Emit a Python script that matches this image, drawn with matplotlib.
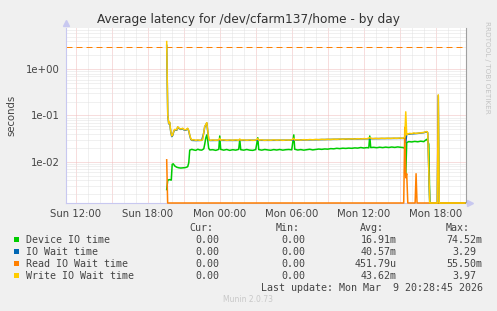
import numpy as np
import matplotlib.pyplot as plt
from matplotlib.ticker import MultipleLocator, FuncFormatter, LogLocator, NullFormatter
from matplotlib.patches import Rectangle

W, H = 497, 311  # output size in px (dpi 100)

# time in hours since Sun 00:00, value in seconds
device_io = [
    (19.58, 0.0025), (19.67, 0.004), (19.83, 0.0041), (19.96, 0.004), (20.04, 0.0088),
    (20.13, 0.009), (20.25, 0.0081), (20.42, 0.0076), (20.58, 0.0074), (20.75, 0.0073),
    (21.0, 0.0074), (21.17, 0.0075), (21.33, 0.0078), (21.42, 0.0095), (21.5, 0.0178),
    (21.67, 0.0185), (21.83, 0.018), (22.0, 0.0176), (22.17, 0.0186), (22.33, 0.018),
    (22.5, 0.0178), (22.67, 0.019), (22.75, 0.024), (22.83, 0.032), (22.92, 0.038),
    (23.0, 0.029), (23.08, 0.0195), (23.17, 0.018), (23.42, 0.0182), (23.67, 0.0176),
    (23.92, 0.0185), (24.0, 0.036), (24.08, 0.0185), (24.33, 0.0178), (24.58, 0.0184),
    (24.83, 0.0176), (25.08, 0.0182), (25.33, 0.0178), (25.58, 0.0185), (25.67, 0.03),
    (25.75, 0.0182), (26.0, 0.0178), (26.25, 0.0184), (26.5, 0.0178), (26.75, 0.0176),
    (27.0, 0.0183), (27.17, 0.033), (27.25, 0.0183), (27.5, 0.0178), (27.75, 0.0184),
    (28.0, 0.018), (28.25, 0.0177), (28.5, 0.0183), (28.75, 0.0179), (29.0, 0.0184),
    (29.25, 0.0178), (29.5, 0.0182), (29.75, 0.0184), (30.0, 0.0181), (30.17, 0.038),
    (30.25, 0.0186), (30.5, 0.0179), (30.75, 0.0183), (31.0, 0.0178), (31.25, 0.0182),
    (31.5, 0.0186), (31.75, 0.018), (32.0, 0.0184), (32.25, 0.0188), (32.5, 0.0185),
    (32.75, 0.0189), (33.0, 0.0187), (33.25, 0.0192), (33.5, 0.019), (33.75, 0.0195),
    (34.0, 0.0192), (34.25, 0.0196), (34.5, 0.0194), (34.75, 0.0197), (35.0, 0.0195),
    (35.25, 0.0199), (35.5, 0.0197), (35.75, 0.0203), (36.0, 0.0198), (36.25, 0.0202),
    (36.42, 0.02), (36.5, 0.036), (36.58, 0.0203), (36.83, 0.0205), (37.08, 0.0201),
    (37.33, 0.0206), (37.58, 0.0202), (37.83, 0.0207), (38.08, 0.0203), (38.33, 0.0208),
    (38.58, 0.0204), (38.83, 0.0209), (39.08, 0.0205), (39.33, 0.0202), (39.42, 0.019),
    (39.5, 0.0052), (39.58, 0.026), (39.75, 0.0272), (40.0, 0.0268), (40.25, 0.0275),
    (40.5, 0.027), (40.75, 0.0278), (41.0, 0.0272), (41.17, 0.0295), (41.25, 0.0305),
    (41.33, 0.028), (41.42, 0.024), (41.5, 0.0), (44.42, 0.0),
]

io_wait = [
    (19.58, 3.29), (19.67, 0.1), (19.75, 0.066), (19.83, 0.07), (19.92, 0.044),
    (20.0, 0.035), (20.08, 0.037), (20.17, 0.045), (20.25, 0.049), (20.42, 0.048),
    (20.5, 0.056), (20.58, 0.053), (20.75, 0.05), (20.92, 0.052), (21.0, 0.049),
    (21.17, 0.048), (21.33, 0.052), (21.42, 0.046), (21.5, 0.037), (21.58, 0.031),
    (21.67, 0.029), (22.0, 0.0287), (22.5, 0.029), (22.67, 0.042), (22.75, 0.057),
    (22.83, 0.062), (22.92, 0.069), (23.0, 0.046), (23.08, 0.0305), (23.17, 0.0288),
    (24.0, 0.029), (25.0, 0.0289), (26.0, 0.029), (27.0, 0.0291), (28.0, 0.029),
    (29.0, 0.0291), (30.0, 0.0292), (31.0, 0.0296), (32.0, 0.0299), (33.0, 0.0303),
    (34.0, 0.0306), (35.0, 0.031), (36.0, 0.0313), (37.0, 0.0316), (38.0, 0.0318),
    (39.0, 0.032), (39.33, 0.032), (39.42, 0.034), (39.5, 0.026), (39.58, 0.04),
    (39.67, 0.0395), (40.0, 0.04), (40.5, 0.041), (41.0, 0.0425), (41.25, 0.0445),
    (41.33, 0.042), (41.5, 0.0), (42.13, 0.0), (42.21, 0.27), (42.29, 0.0), (44.42, 0.0),
]

read_io_wait = [
    (19.58, 0.011), (19.66, 0.0), (39.33, 0.0), (39.42, 0.0555), (39.5, 0.0045),
    (39.58, 0.0055), (39.67, 0.0), (40.28, 0.0), (40.36, 0.0055), (40.44, 0.0),
    (44.42, 0.0),
]

write_io_wait = [
    (19.58, 3.97), (19.67, 0.103), (19.75, 0.068), (19.83, 0.072), (19.92, 0.045),
    (20.0, 0.036), (20.08, 0.038), (20.17, 0.046), (20.25, 0.05), (20.42, 0.049),
    (20.5, 0.057), (20.58, 0.054), (20.75, 0.051), (20.92, 0.053), (21.0, 0.05),
    (21.17, 0.049), (21.33, 0.053), (21.42, 0.047), (21.5, 0.038), (21.58, 0.032),
    (21.67, 0.0295), (21.83, 0.03), (22.0, 0.029), (22.17, 0.0297), (22.33, 0.029),
    (22.5, 0.0293), (22.58, 0.03), (22.67, 0.043), (22.75, 0.058), (22.83, 0.063),
    (22.92, 0.07), (23.0, 0.047), (23.08, 0.031), (23.17, 0.029), (23.42, 0.0296),
    (23.67, 0.0291), (23.92, 0.0295), (24.0, 0.032), (24.08, 0.0293), (24.33, 0.0298),
    (24.58, 0.029), (24.83, 0.0295), (25.08, 0.0292), (25.33, 0.0297), (25.58, 0.029),
    (25.67, 0.031), (25.75, 0.0293), (26.0, 0.0297), (26.25, 0.0291), (26.5, 0.0296),
    (26.75, 0.029), (27.0, 0.0294), (27.17, 0.0315), (27.25, 0.0292), (27.5, 0.0297),
    (27.75, 0.029), (28.0, 0.0295), (28.25, 0.0291), (28.5, 0.0297), (28.75, 0.0292),
    (29.0, 0.0296), (29.25, 0.029), (29.5, 0.0295), (29.75, 0.0293), (30.0, 0.0297),
    (30.17, 0.032), (30.25, 0.0295), (30.5, 0.0299), (30.75, 0.0294), (31.0, 0.03),
    (31.25, 0.0296), (31.5, 0.0302), (31.75, 0.0298), (32.0, 0.0303), (32.25, 0.0299),
    (32.5, 0.0305), (32.75, 0.0301), (33.0, 0.0306), (33.25, 0.0302), (33.5, 0.0308),
    (33.75, 0.0304), (34.0, 0.031), (34.25, 0.0306), (34.5, 0.0311), (34.75, 0.0308),
    (35.0, 0.0313), (35.25, 0.0309), (35.5, 0.0315), (35.75, 0.0311), (36.0, 0.0316),
    (36.25, 0.0313), (36.5, 0.033), (36.75, 0.0315), (37.0, 0.032), (37.25, 0.0316),
    (37.5, 0.0322), (37.75, 0.0318), (38.0, 0.0323), (38.25, 0.0319), (38.5, 0.0324),
    (38.75, 0.032), (39.0, 0.0325), (39.25, 0.0321), (39.33, 0.033), (39.42, 0.034),
    (39.5, 0.12), (39.58, 0.038), (39.67, 0.04), (39.83, 0.041), (40.0, 0.0405),
    (40.17, 0.042), (40.33, 0.041), (40.5, 0.0415), (40.67, 0.042), (40.83, 0.0425),
    (41.0, 0.043), (41.17, 0.0445), (41.25, 0.045), (41.33, 0.043), (41.5, 0.0),
    (42.13, 0.0), (42.21, 0.28), (42.29, 0.0), (44.42, 0.0),
]

series_names = ['Device IO time', 'IO Wait time', 'Read IO Wait time', 'Write IO Wait time']
series_colors = ['#00cc00', '#0066b3', '#ff8000', '#ffcc00']
cur_vals = ['0.00', '0.00', '0.00', '0.00']
min_vals = ['0.00', '0.00', '0.00', '0.00']
avg_vals = ['16.91m', '40.57m', '451.79u', '43.62m']
max_vals = ['74.52m', '3.29', '55.50m', '3.97']
warn_level = 3.0

x_start, x_end = 11.19, 44.52
y_bottom, y_top = 1.28e-3, 7.8

txt = '#444444'
fig = plt.figure(figsize=(W / 100, H / 100), dpi=100, facecolor='#f0f0f0')
ax = fig.add_axes([66 / W, 1 - 203 / H, 400 / W, 175 / H])
ax.set_facecolor('white')

ax.set_yscale('log')
ax.set_xlim(x_start, x_end)
ax.set_ylim(y_bottom, y_top)

# grid, dotted like rrdtool
ax.xaxis.set_major_locator(MultipleLocator(3))
ax.xaxis.set_minor_locator(MultipleLocator(1))
ax.yaxis.set_major_locator(LogLocator(base=10, numticks=10))
ax.yaxis.set_minor_locator(LogLocator(base=10, subs=np.arange(2, 10), numticks=20))
ax.yaxis.set_minor_formatter(NullFormatter())
ax.grid(which='minor', color='#e2e2e2', lw=0.72, linestyle=(0, (1, 1)))
ax.grid(which='major', color='#f0bcbc', lw=0.72, linestyle=(0, (1, 1)))
ax.set_axisbelow(True)


def hour_label(h, pos):
    h = int(round(h))
    if h % 6:
        return ''
    day = 'Sun' if h < 24 else 'Mon'
    return f'{day} {h % 24:02d}:00'


ax.xaxis.set_major_formatter(FuncFormatter(hour_label))
ax.yaxis.set_major_formatter(FuncFormatter(lambda v, p: f'{v:.0e}'))
ax.tick_params(which='both', length=0, labelsize=7.3, labelcolor=txt)
ax.tick_params(axis='x', pad=4)
ax.tick_params(axis='y', pad=4.5)

ax.spines['top'].set_visible(False)
ax.spines['right'].set_color('#a0a0a0')
ax.spines['left'].set_color('#c8c8f0')
ax.spines['bottom'].set_color('#c8c8f0')
ax.plot([0], [1.03], marker='^', ms=4, color='#c8c8f0', transform=ax.transAxes, clip_on=False)
ax.plot([1.01], [0], marker='>', ms=4, color='#c8c8f0', transform=ax.transAxes, clip_on=False)

ax.axhline(warn_level, color='#ff8000', lw=0.72, linestyle=(0, (6, 4)), zorder=2)

for data, color in zip([device_io, io_wait, read_io_wait, write_io_wait], series_colors):
    hrs, vals = zip(*data)
    vals = np.maximum(np.array(vals), y_bottom)  # zeros sit on the bottom edge like rrdtool
    ax.plot(hrs, vals, color=color, lw=1.1, zorder=3, clip_on=False)

# text around the plot
fig.text(0.5, 1 - 19 / H, 'Average latency for /dev/cfarm137/home - by day',
         ha='center', va='center', fontsize=8.7, color='#333333')
fig.text(11.5 / W, 1 - 115 / H, 'seconds', rotation=90, ha='center', va='center',
         fontsize=7.3, color=txt)
fig.text(487.5 / W, 1 - 67 / H, 'RRDTOOL / TOBI OETIKER', rotation=270, ha='center',
         va='center', fontsize=5.2, color='#c4c4c4')

# legend table
mono = 'DejaVu Sans Mono'
fs = 7.2
row_y = [239.7, 251.7, 263.7, 275.7]
col_right = [225, 311.7, 397, 482.7]
for hdr, xr in zip(['Cur:', 'Min:', 'Avg:', 'Max:'], [213, 300, 384, 470]):
    fig.text(xr / W, 1 - 228 / H, hdr, ha='right', va='center', family=mono, fontsize=fs, color=txt)
for i, yy in enumerate(row_y):
    fig.add_artist(Rectangle((14 / W, 1 - (yy + 2.5) / H), 5 / W, 5 / H,
                             transform=fig.transFigure, color=series_colors[i], lw=0))
    fig.text(26 / W, 1 - yy / H, series_names[i], ha='left', va='center',
             family=mono, fontsize=fs, color=txt)
    for vals, xr in zip([cur_vals, min_vals, avg_vals, max_vals], col_right):
        v = vals[i]
        shift = 0 if v[-1].isalpha() else 6
        fig.text((xr - shift) / W, 1 - yy / H, v, ha='right', va='center',
                 family=mono, fontsize=fs, color=txt)

fig.text(482.7 / W, 1 - 287.7 / H, 'Last update: Mon Mar  9 20:28:45 2026', ha='right',
         va='center', family=mono, fontsize=fs, color=txt)
fig.text(248 / W, 1 - 300 / H, 'Munin 2.0.73', ha='center', va='center',
         fontsize=5.5, color='#c8c8c8')

fig.savefig('out.png', dpi=100, facecolor=fig.get_facecolor())
